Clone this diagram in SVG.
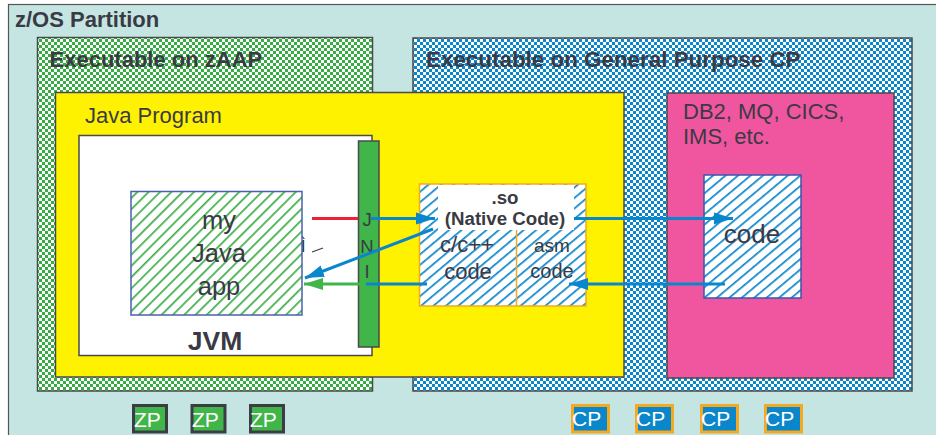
<svg xmlns="http://www.w3.org/2000/svg" width="936" height="435" viewBox="0 0 936 435">
<style>
text{font-family:"Liberation Sans",Arial,sans-serif;fill:#3a3a44}
.b{font-weight:bold}
.m{text-anchor:middle}
.box{stroke:#4a4a4a;stroke-width:1.5}
.con{fill:none;stroke-width:3}
.w{fill:#fff}
.lab{fill:#fff}
</style>
<defs>
<pattern id="chkG" width="6" height="6" patternUnits="userSpaceOnUse"><rect width="6" height="6" fill="#fff"/><rect width="3" height="3" fill="#35ad42"/><rect x="3" y="3" width="3" height="3" fill="#35ad42"/></pattern>
<pattern id="chkB" width="6" height="6" patternUnits="userSpaceOnUse"><rect width="6" height="6" fill="#fff"/><rect width="3" height="3" fill="#0a86cc"/><rect x="3" y="3" width="3" height="3" fill="#0a86cc"/></pattern>
<pattern id="hatG" width="8" height="8" patternUnits="userSpaceOnUse" patternTransform="rotate(45)"><rect width="8" height="8" fill="#fff"/><rect width="1.700" height="8" fill="#3fae49"/></pattern>
<pattern id="hatB" width="8" height="8" patternUnits="userSpaceOnUse" patternTransform="rotate(50)"><rect width="8" height="8" fill="#fff"/><rect width="1.700" height="8" fill="#0a86cc"/></pattern>
<marker id="aB" markerUnits="userSpaceOnUse" markerWidth="20" markerHeight="14" refX="19" refY="7" orient="auto"><path d="M0 1L19 7L0 13Z" fill="#0a86cc"/></marker>
<marker id="aG" markerUnits="userSpaceOnUse" markerWidth="20" markerHeight="14" refX="19" refY="7" orient="auto"><path d="M0 1L19 7L0 13Z" fill="#3fb54a"/></marker>
</defs>
<rect width="936" height="435" fill="#fff"/>
<g id="partition"><rect x="8.500" y="4.500" width="1000" height="1000" fill="#c5e5e3" stroke="#555" stroke-width="1.200"/><text class="b" x="15" y="27" font-size="22">z/OS Partition</text></g>
<g id="zaap"><rect class="box" x="37.500" y="37.500" width="335" height="353.500" fill="url(#chkG)"/><text class="b" x="49.500" y="67" font-size="22">Executable on zAAP</text></g>
<g id="gp"><rect class="box" x="413" y="38" width="499" height="353" fill="url(#chkB)"/><text class="b" x="426" y="67" font-size="22.400">Executable on General Purpose CP</text></g>
<g id="java-program"><rect class="box" x="55.500" y="92.500" width="568.500" height="284.500" fill="#fff200"/><text x="85" y="123" font-size="22">Java Program</text></g>
<g id="jvm"><rect class="box" x="79" y="135.500" width="293" height="220" fill="#fff"/><text class="b m" x="215" y="350" font-size="26.500">JVM</text></g>
<g id="stray"><text x="300" y="252" font-size="22">ì</text><path d="M312 252L323 248" stroke="#3a3a44" stroke-width="1.200"/></g>
<g id="java-app"><rect x="131" y="191.500" width="171" height="123.500" fill="url(#hatG)" stroke="#4a62ad" stroke-width="1.500"/><text class="m" x="219" y="229" font-size="25.500">my</text><text class="m" x="219" y="262" font-size="25.500">Java</text><text class="m" x="219" y="295" font-size="25.500">app</text></g>
<g id="jni"><rect class="box" x="358.500" y="141" width="20.500" height="206" fill="#3fb54a"/><text class="m" x="367" y="226" font-size="18.500">J</text><text class="m" x="367" y="253" font-size="18.500">N</text><text class="m" x="367" y="278" font-size="18.500">I</text></g>
<g id="native"><rect x="419.500" y="184" width="166.500" height="122" fill="url(#hatB)" stroke="#f4a91f" stroke-width="1.500"/><rect class="w" x="438" y="185" width="136" height="45"/><path d="M516.500 230V306" stroke="#f4a91f" stroke-width="1.500"/><text class="b m" x="505" y="204" font-size="18.700">.so</text><text class="b m" x="505" y="225" font-size="18.700">(Native Code)</text><text class="m" x="467" y="252" font-size="22">c/c++</text><text class="m" x="468" y="279" font-size="22">code</text><text class="m" x="552" y="252" font-size="19">asm</text><text class="m" x="552" y="278" font-size="20">code</text></g>
<g id="db2"><rect class="box" x="667" y="93" width="227" height="285" fill="#f0569f"/><text x="683" y="119" font-size="22">DB2, MQ, CICS,</text><text x="683" y="144" font-size="22">IMS, etc.</text></g>
<g id="code"><rect x="704" y="175" width="97" height="123" fill="url(#hatB)" stroke="#3a55ad" stroke-width="1.500"/><text class="m" x="752" y="243" font-size="26">code</text></g>
<g id="connectors">
<path class="con" d="M312 218.500H358" stroke="#ee2233"/>
<path class="con" d="M371 218.500H435" stroke="#0a86cc" marker-end="url(#aB)"/>
<path class="con" d="M433 229L305 278" stroke="#0a86cc" marker-end="url(#aB)"/>
<path class="con" d="M360 284H304" stroke="#3fb54a" marker-end="url(#aG)"/>
<path class="con" d="M366 284H427" stroke="#0a86cc"/>
<path class="con" d="M574 218.500H733" stroke="#0a86cc" marker-end="url(#aB)"/>
<path class="con" d="M725 284H569" stroke="#0a86cc" marker-end="url(#aB)"/>
</g>
<g id="zp1"><rect x="133.500" y="405.500" width="33" height="26.500" fill="#3fb54a" stroke="#3c3c44" stroke-width="3"/><text class="lab" x="134" y="427" font-size="21" style="fill:#fff">ZP</text></g>
<g id="zp2"><rect x="192" y="405.500" width="33" height="26.500" fill="#3fb54a" stroke="#3c3c44" stroke-width="3"/><text x="192" y="427" font-size="21" style="fill:#fff">ZP</text></g>
<g id="zp3"><rect x="250.500" y="405.500" width="33" height="26.500" fill="#3fb54a" stroke="#3c3c44" stroke-width="3"/><text x="250" y="427" font-size="21" style="fill:#fff">ZP</text></g>
<g id="cp1"><rect x="572.500" y="405.500" width="36" height="26.500" fill="#0a86cc" stroke="#f4a91f" stroke-width="3"/><text x="572" y="426" font-size="21" style="fill:#fff">CP</text></g>
<g id="cp2"><rect x="636.500" y="405.500" width="36" height="26.500" fill="#0a86cc" stroke="#f4a91f" stroke-width="3"/><text x="636" y="426" font-size="21" style="fill:#fff">CP</text></g>
<g id="cp3"><rect x="701.500" y="405.500" width="36" height="26.500" fill="#0a86cc" stroke="#f4a91f" stroke-width="3"/><text x="701" y="426" font-size="21" style="fill:#fff">CP</text></g>
<g id="cp4"><rect x="765.500" y="405.500" width="36" height="26.500" fill="#0a86cc" stroke="#f4a91f" stroke-width="3"/><text x="765" y="426" font-size="21" style="fill:#fff">CP</text></g>
</svg>
